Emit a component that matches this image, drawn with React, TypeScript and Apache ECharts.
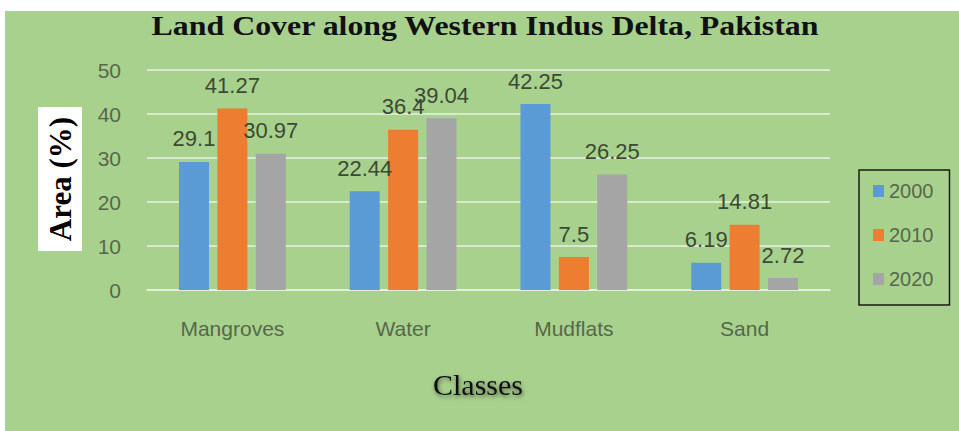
import React, { useEffect, useRef } from "react";
import * as echarts from "echarts";

const categories = ["Mangroves", "Water", "Mudflats", "Sand"];
const years = ["2000", "2010", "2020"];
const values2000 = [29.1, 22.44, 42.25, 6.19];
const values2010 = [41.27, 36.4, 7.5, 14.81];
const values2020 = [30.97, 39.04, 26.25, 2.72];
const yTicks = { min: 0, max: 50, interval: 10 };
const colors = ["#5b9bd5", "#ed7d31", "#a5a5a5"];

const titleText = "Land Cover along Western Indus Delta, Pakistan";
const yName = "Area (%)";
const xName = "Classes";

export default function App() {
  const ref = useRef<HTMLDivElement>(null);
  useEffect(() => {
    if (!ref.current) return;
    const chart = echarts.init(ref.current, null, { renderer: "svg" });
    const seriesData = [values2000, values2010, values2020];
    const labelColor = "#56684b";
    chart.setOption({
      animation: false,
      backgroundColor: "#a9d18e",
      grid: { left: 142, top: 59, width: 683, height: 220 },
      legend: {
        orient: "vertical",
        left: 854,
        top: 159,
        padding: [11, 16, 16, 14],
        itemGap: 24,
        itemWidth: 11,
        itemHeight: 12,
        borderColor: "#1a1a1a",
        borderWidth: 1.5,
        icon: "rect",
        data: years,
        textStyle: { fontSize: 20, color: labelColor, fontFamily: "Liberation Sans" },
      },
      xAxis: {
        type: "category",
        data: categories,
        axisTick: { show: false },
        axisLine: { lineStyle: { color: "#e9f2e2", width: 1.5 } },
        axisLabel: { fontSize: 21, color: labelColor, margin: 28, fontFamily: "Liberation Sans" },
      },
      yAxis: {
        type: "value",
        min: yTicks.min,
        max: yTicks.max,
        interval: yTicks.interval,
        axisLine: { show: false },
        axisTick: { show: false },
        splitLine: { lineStyle: { color: "#e9f2e2", width: 1.5 } },
        axisLabel: { fontSize: 21, color: labelColor, margin: 26, fontFamily: "Liberation Sans" },
      },
      series: years.map((y, i) => ({
        name: y,
        type: "bar",
        data: seriesData[i],
        barWidth: 30,
        barGap: "28%",
        itemStyle: { color: colors[i] },
        label: {
          show: true,
          position: "top",
          distance: 12,
          fontSize: 22,
          color: "#3b4a33",
          fontFamily: "Liberation Sans",
        },
      })),
      graphic: [
        {
          type: "text",
          x: 480,
          y: 15,
          scaleX: 1.18,
          style: {
            text: titleText,
            font: "bold 27px 'Liberation Serif'",
            fill: "#111",
            align: "center",
            verticalAlign: "middle",
          },
        },
        {
          type: "rect",
          shape: { x: 33, y: 96, width: 44, height: 144 },
          style: { fill: "#ffffff" },
        },
        {
          type: "text",
          x: 55,
          y: 168,
          rotation: Math.PI / 2,
          style: {
            text: yName,
            font: "bold 31px 'Liberation Serif'",
            fill: "#000",
            align: "center",
            verticalAlign: "middle",
          },
        },
        {
          type: "text",
          x: 473,
          y: 373,
          style: {
            text: xName,
            font: "30px 'Liberation Serif'",
            fill: "#111",
            align: "center",
            verticalAlign: "middle",
            textShadowColor: "rgba(0,0,0,0.55)",
            textShadowBlur: 4,
            textShadowOffsetX: 1,
            textShadowOffsetY: 2,
          },
        },
      ],
    });
    return () => chart.dispose();
  }, []);
  return (
    <div style={{ position: "fixed", left: 0, top: 0, width: 959, height: 431, background: "#fff" }}>
      <div ref={ref} style={{ position: "absolute", left: 5, top: 11, width: 954, height: 420 }} />
    </div>
  );
}
